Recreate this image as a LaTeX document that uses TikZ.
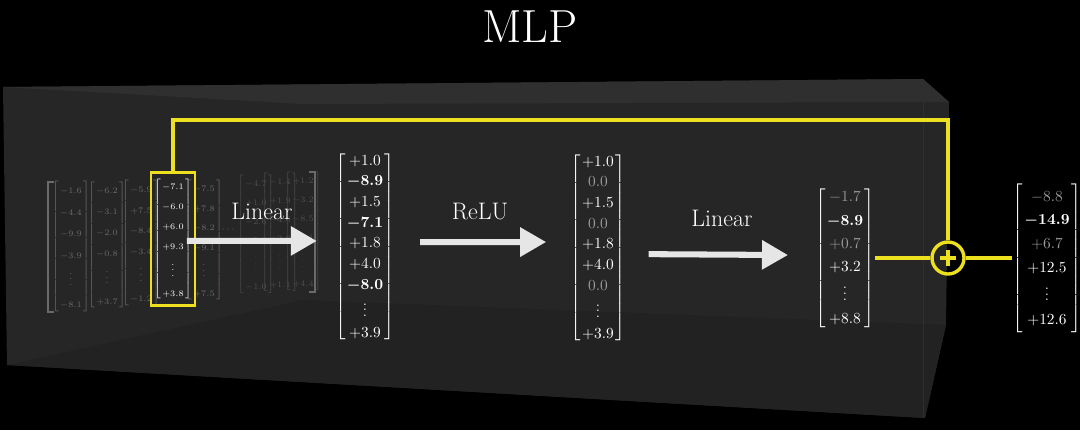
\documentclass[tikz,border=0pt]{standalone}
\usepackage{amsmath,amssymb}
\usepackage{tikz}
\usetikzlibrary{arrows.meta,positioning,fit}

\definecolor{boxwall}{HTML}{262626}
\definecolor{boxtop}{HTML}{2F2F2F}
\definecolor{boxfloor}{HTML}{222222}
\definecolor{hlyellow}{HTML}{EDE01E}
\definecolor{arrowwhite}{HTML}{E6E6E6}
\definecolor{dimtext}{HTML}{9A9A9A}
\definecolor{fadetext}{HTML}{6A6A6A}
\definecolor{farfade}{HTML}{4E4E4E}

% column vector with square brackets, optional row stretch
\newcommand{\mvec}[2][1.2]{$\renewcommand{\arraystretch}{#1}\left[\begin{array}{@{\hspace{1pt}}c@{\hspace{1pt}}}#2\end{array}\right]$}
\newcommand{\dimv}[1]{\textcolor{dimtext}{#1}}

\begin{document}
\begin{tikzpicture}[
  x=0.025cm, y=-0.025cm,
  every node/.style={inner sep=0pt},
  title/.style={text=white, font=\fontsize{33}{36}\selectfont},
  vecbig/.style={text=white, font=\fontsize{11}{13}\selectfont},
  vecfade/.style={text=fadetext, font=\fontsize{6.2}{7.5}\selectfont},
  vecfar/.style={text=farfade, font=\fontsize{5.6}{7}\selectfont},
  oplabel/.style={text=white, font=\fontsize{17}{20}\selectfont},
  flow/.style={-{Triangle[length=6.5mm, width=7mm]}, line width=4.3pt, draw=arrowwhite},
  skip/.style={draw=hlyellow, line width=2.2pt},
  fadebr/.style={draw=fadetext, line width=0.9pt}
]
\useasboundingbox (0,0) rectangle (1080,430);
\fill[black] (0,0) rectangle (1080,430);

% the box
\fill[boxwall] (3,87) -- (923,79) -- (949,102) -- (946,325) -- (925,418) -- (7,365) -- cycle;
\fill[boxtop] (3,87) -- (923,79) -- (949,102) -- (303,104) -- cycle;
\fill[boxfloor] (7,365) -- (303,300) -- (946,325) -- (925,418) -- cycle;
\draw[boxtop, line width=0.6pt] (923,79) -- (923,418);

\node[title] (ttl) at (530,27) {MLP};

% sequence of input vectors
\draw[fadebr] (54,182) -- (48,182) -- (48,312) -- (54,312);
\node[vecfade] (c1) at (71,246) {\mvec[2.05]{-1.6\\-4.4\\-9.9\\-3.9\\\vdots\\-8.1}};
\node[vecfade] (c2) at (107,245) {\mvec[2.0]{-6.2\\-3.1\\-2.0\\-0.8\\\vdots\\+3.7}};
\node[vecfade] (c3) at (141,243) {\mvec[1.95]{-5.9\\+7.5\\-8.4\\-3.4\\\vdots\\-1.2}};
\node[vecfade, text=white] (c4) at (173,239) {\mvec[1.9]{-7.1\\-6.0\\+6.0\\+9.3\\\vdots\\+3.8}};
\node[vecfade] (c5) at (204,240) {\mvec[1.85]{-7.5\\+7.8\\-8.2\\-9.1\\\vdots\\+7.5}};
\node[vecfade] (dts) at (229,229) {$\cdots$};
\node[vecfar] (c6) at (256,234) {\mvec[1.95]{-4.7\\+1.0\\-2.6\\+5.3\\\vdots\\-1.0}};
\node[vecfar] (c7) at (280,232) {\mvec[1.95]{-1.4\\+1.9\\-4.6\\+2.8\\\vdots\\+1.1}};
\node[vecfar] (c8) at (303,231) {\mvec[1.95]{+1.2\\-3.2\\-8.5\\+3.1\\\vdots\\+4.4}};
\draw[fadebr] (309,172) -- (315,172) -- (315,292) -- (309,292);
\node[draw=hlyellow, line width=2pt, inner sep=2pt, fit=(c4)] (hl) {};

% hidden and output vectors
\node[vecbig] (h1) at (365,247) {\mvec[1.13]{+1.0\\\boldsymbol{-8.9}\\+1.5\\\boldsymbol{-7.1}\\+1.8\\+4.0\\\boldsymbol{-8.0}\\\vdots\\+3.9}};
\node[vecbig] (h2) at (598,248) {\mvec[1.13]{+1.0\\\dimv{0.0}\\+1.5\\\dimv{0.0}\\+1.8\\+4.0\\\dimv{0.0}\\\vdots\\+3.9}};
\node[vecbig] (out) at (845,258) {\mvec[1.28]{\dimv{-1.7}\\\boldsymbol{-8.9}\\\dimv{+0.7}\\+3.2\\\vdots\\+8.8}};
\node[vecbig] (res) at (1047,258) {\mvec[1.3]{\dimv{-8.8}\\\boldsymbol{-14.9}\\\dimv{+6.7}\\+12.5\\\vdots\\+12.6}};

% operations
\draw[flow, shorten <=0.05cm, shorten >=0.45cm] ([yshift=-0.02cm]c5.west) -- ([yshift=0.15cm]h1.west);
\draw[flow, shorten <=0.62cm, shorten >=0.6cm] ([yshift=0.12cm]h1.east) -- ([yshift=0.15cm]h2.west);
\draw[flow, shorten <=0.57cm, shorten >=0.67cm] ([yshift=-0.15cm]h2.east) -- ([yshift=0.07cm]out.west);
\node[oplabel] (lin1) at (262,211) {Linear};
\node[oplabel] (relu) at (480,212) {ReLU};
\node[oplabel] (lin2) at (722,218) {Linear};

% residual connection
\node[circle, draw=hlyellow, line width=2.4pt, minimum size=0.8cm] (plus) at (948,258) {};
\draw[skip, line width=2.6pt] (plus.center) ++(-8,0) -- ++(16,0);
\draw[skip, line width=2.6pt] (plus.center) ++(0,-8) -- ++(0,16);
\coordinate (sk) at (948,120);
\draw[skip] (hl.north) |- (sk) -- (plus.north);
\draw[skip] (out.east) -- (plus.west);
\draw[skip] (plus.east) -- (res.west);
\end{tikzpicture}
\end{document}
